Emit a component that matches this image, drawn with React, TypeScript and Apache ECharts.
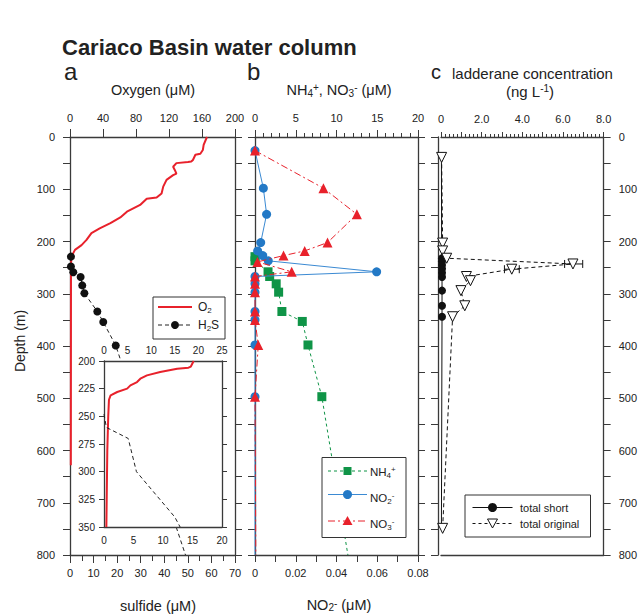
import React, { useEffect, useRef } from 'react';
import * as echarts from 'echarts';

const FONT = '"Liberation Sans", Arial, Helvetica, sans-serif';
const INK = '#222222';
const FRAME = '#3a3a3a';
const RED = '#e8212b';
const GREEN = '#0f9447';
const BLUE = '#2379c6';
const BLUE_LINE = '#3b8ad3';

// ---------- Panel a: oxygen & sulfide ----------
const oxygenDepth = [0, 15, 25, 32, 34, 44, 47, 48, 50, 57, 63, 70, 73, 82, 95, 108, 116, 118, 130, 143, 154, 165, 175, 184, 197, 207, 216, 228, 242, 628];
const oxygenValue = [166, 162, 161, 158, 152, 149, 147, 143, 129, 125, 127, 129, 125, 117, 113, 111, 105, 93, 85, 69, 61, 49, 36, 26, 20, 14, 6, 2, 1.2, 1];
const sulfideDepth = [229, 248, 259, 268, 284, 299, 334, 354, 399, 800];
const sulfideValue = [0.4, 0.4, 1.4, 4.5, 5.2, 6.1, 11.6, 14.1, 19.4, 49];
const sulfideMarked = [true, true, true, true, true, true, true, true, true, false];

// inset (200-350 m)
const insetOxygenDepth = [200, 205, 206, 207, 210, 213, 216, 219, 222, 225, 228, 231, 235, 250, 281, 326, 350];
const insetOxygenValue = [19.0, 18.4, 17.9, 15.5, 11.9, 9.1, 7.7, 7.0, 5.6, 4.9, 2.8, 1.4, 1.05, 0.9, 0.7, 0.57, 0.5];
const insetSulfideDepth = [248, 260, 270, 300, 341, 350];
const insetSulfideValue = [0, 0.4, 4.1, 5.5, 12.0, 12.9];

// ---------- Panel b: nutrients ----------
const nh4Depth = [229, 237, 258, 267, 281, 297, 334, 353, 398, 497, 800];
const nh4Value = [0, 0, 1.6, 1.8, 2.6, 2.9, 3.3, 5.8, 6.5, 8.2, 11.4];
const nh4Marked = [true, true, true, true, true, true, true, true, true, true, false];
const no2Depth = [26, 98, 148, 202, 218, 227, 237, 258, 267, 281, 297, 334, 350, 398, 497, 800];
const no2Value = [0, 0.0041, 0.0057, 0.0028, 0.0013, 0.0038, 0.0065, 0.0597, 0, 0, 0, 0, 0, 0, 0, 0];
const no2Marked = [true, true, true, true, true, true, true, true, true, true, true, true, true, true, true, false];
const no3Depth = [26, 98, 148, 202, 218, 227, 239, 258, 267, 281, 297, 334, 350, 398, 497, 800];
const no3Value = [0, 8.4, 12.5, 8.9, 6.1, 3.5, 0.3, 4.5, 0, 0, 0, 0, 0, 0.4, 0, 0.1];
const no3Marked = [true, true, true, true, true, true, true, true, true, true, true, true, true, true, true, false];

// ---------- Panel c: ladderanes ----------
const originalDepth = [39, 203, 218, 232, 243, 253, 267, 275, 294, 323, 344, 749];
const originalValue = [0.03, 0.08, 0.08, 0.28, 6.49, 3.48, 1.25, 1.45, 0.98, 1.17, 0.57, 0.08];
const originalErrDepth = [243, 253];
const originalErrLow = [6.08, 3.12];
const originalErrHigh = [6.97, 3.85];
const shortDepth = [39, 203, 218, 232, 238, 245, 252, 260, 268, 294, 323, 344, 749];
const shortValue = [0.02, 0.03, 0.03, 0.05, 0.05, 0.05, 0.05, 0.05, 0.05, 0.05, 0.05, 0.05, 0.02];
const shortMarked = [false, false, false, true, true, true, true, true, true, true, true, true, false];

function pairs(values: number[], depths: number[], marked?: boolean[]) {
  return depths.map((d, i) =>
    marked && !marked[i] ? { value: [values[i], d], symbol: 'none' } : [values[i], d]
  );
}

const lbl = (extra: any = {}) => ({
  show: true,
  fontSize: 11,
  color: INK,
  fontFamily: FONT,
  ...extra,
});
const axLine = { show: true, onZero: false, lineStyle: { color: FRAME, width: 1.3 } };
const tick = (length: number, extra: any = {}) => ({
  show: true,
  inside: false,
  length,
  lineStyle: { color: FRAME, width: 1 },
  ...extra,
});

function depthAxis(gridIndex: number, position: string, showLabels: boolean, extra: any = {}) {
  return {
    gridIndex,
    type: 'value',
    position,
    inverse: true,
    min: 0,
    max: 800,
    interval: 50,
    axisLine: axLine,
    axisTick: tick(7),
    axisLabel: lbl({
      show: showLabels,
      margin: 15,
      formatter: (v: number) => (v % 100 === 0 ? String(v) : ''),
    }),
    splitLine: { show: false },
    ...extra,
  };
}

function subsup(fs: number, subLH: number, supLH: number) {
  return {
    sub: { fontSize: fs, lineHeight: subLH, verticalAlign: 'bottom', fontFamily: FONT, fill: INK, color: INK },
    sup: { fontSize: fs, lineHeight: supLH, verticalAlign: 'top', fontFamily: FONT, fill: INK, color: INK },
  };
}

function txt(x: number, y: number, text: string, opts: any = {}) {
  const { fontSize = 14, align = 'center', rotation = 0, fontWeight = 'normal', lineHeight, rich } = opts;
  return {
    type: 'text',
    x,
    y,
    rotation,
    z: 50,
    style: {
      text,
      fontSize,
      fontWeight,
      fontFamily: FONT,
      fill: INK,
      align,
      verticalAlign: 'middle',
      lineHeight: lineHeight || fontSize,
      rich,
    },
  };
}

function hline(x1: number, x2: number, y: number, stroke: string, lineWidth: number, lineDash?: number[]) {
  return { type: 'line', z: 50, shape: { x1, y1: y, x2, y2: y }, style: { stroke, lineWidth, lineDash } };
}

function buildGraphic() {
  const g: any[] = [];
  // title & panel letters
  g.push(txt(62, 47, 'Cariaco Basin water column', { fontSize: 22, fontWeight: 'bold', align: 'left' }));
  g.push(txt(64, 71, 'a', { fontSize: 24, align: 'left' }));
  g.push(txt(247, 71, 'b', { fontSize: 24, align: 'left' }));
  g.push(txt(431, 72, 'c', { fontSize: 20, align: 'left' }));
  // axis titles
  g.push(txt(153, 90, 'Oxygen (μM)', { fontSize: 14.5 }));
  g.push(
    txt(339, 90, 'NH{sub|4}{sup|+}, NO{sub|3}{sup|-} (μM)', {
      fontSize: 14.5,
      lineHeight: 16,
      rich: subsup(10, 3, 3),
    })
  );
  g.push(txt(452, 73, 'ladderane concentration', { fontSize: 15, align: 'left' }));
  g.push(txt(530, 91, '(ng L{sup|-1})', { fontSize: 15, lineHeight: 16, rich: subsup(10, 3, 3) }));
  g.push(txt(158, 606, 'sulfide (μM)', { fontSize: 14.5 }));
  g.push(txt(339, 605, 'NO{sub|2}{sup|-} (μM)', { fontSize: 14.5, lineHeight: 14, rich: subsup(10, 3, 3) }));
  g.push(txt(20, 341, 'Depth (m)', { fontSize: 14, rotation: Math.PI / 2 }));

  // legend panel a
  g.push({ type: 'rect', z: 49, shape: { x: 153, y: 297, width: 72, height: 42 }, style: { fill: '#fff', stroke: '#333', lineWidth: 1 } });
  g.push(hline(158, 192, 307, RED, 2));
  g.push(txt(198, 307, 'O{sub|2}', { fontSize: 12, align: 'left', lineHeight: 14, rich: subsup(8, 3, 3) }));
  g.push(hline(158, 192, 325, '#222', 1, [4, 3]));
  g.push({ type: 'circle', z: 51, shape: { cx: 175, cy: 325, r: 4 }, style: { fill: '#111' } });
  g.push(txt(198, 325, 'H{sub|2}S', { fontSize: 12, align: 'left', lineHeight: 14, rich: subsup(8, 3, 3) }));

  // legend panel b
  g.push({ type: 'rect', z: 49, shape: { x: 322, y: 457.5, width: 84, height: 80 }, style: { fill: '#fff', stroke: '#333', lineWidth: 1 } });
  g.push(hline(328, 367, 471, GREEN, 1, [3, 3]));
  g.push({ type: 'rect', z: 51, shape: { x: 343.5, y: 467, width: 8, height: 8 }, style: { fill: GREEN } });
  g.push(txt(370, 472, 'NH{sub|4}{sup|+}', { fontSize: 11.5, align: 'left', lineHeight: 14, rich: subsup(8, 2, 2) }));
  g.push(hline(328, 367, 494.5, BLUE_LINE, 1));
  g.push({ type: 'circle', z: 51, shape: { cx: 347.5, cy: 494.5, r: 4.5 }, style: { fill: BLUE } });
  g.push(txt(370, 498, 'NO{sub|2}{sup|-}', { fontSize: 11.5, align: 'left', lineHeight: 14, rich: subsup(8, 2, 2) }));
  g.push(hline(328, 367, 521, RED, 1, [7, 3, 2, 3]));
  g.push({ type: 'polygon', z: 51, shape: { points: [[342.5, 525], [352.5, 525], [347.5, 516]] }, style: { fill: RED } });
  g.push(txt(370, 524, 'NO{sub|3}{sup|-}', { fontSize: 11.5, align: 'left', lineHeight: 14, rich: subsup(8, 2, 2) }));

  // legend panel c
  g.push({ type: 'rect', z: 49, shape: { x: 465, y: 495, width: 125.5, height: 42 }, style: { fill: '#fff', stroke: '#333', lineWidth: 1 } });
  g.push(hline(472.5, 512.5, 507.5, '#111', 1));
  g.push({ type: 'circle', z: 51, shape: { cx: 492.5, cy: 507.5, r: 4.5 }, style: { fill: '#111' } });
  g.push(txt(520, 507.5, 'total short', { fontSize: 11, align: 'left' }));
  g.push(hline(472.5, 512.5, 523.5, '#111', 1, [3, 3]));
  g.push({
    type: 'polygon',
    z: 51,
    shape: { points: [[487.5, 519], [497.5, 519], [492.5, 528]] },
    style: { fill: '#fff', stroke: '#111', lineWidth: 1 },
  });
  g.push(txt(520, 523.5, 'total original', { fontSize: 11, align: 'left' }));
  return g;
}

export default function App() {
  const ref = useRef<HTMLDivElement>(null);
  useEffect(() => {
    if (!ref.current) return;
    const chart = echarts.init(ref.current, undefined, { renderer: 'svg' });

    const option: any = {
      animation: false,
      backgroundColor: '#ffffff',
      textStyle: { fontFamily: FONT },
      grid: [
        { left: 70, top: 137, width: 165, height: 418, containLabel: false },
        { left: 255, top: 137, width: 163, height: 418, containLabel: false },
        { left: 441, top: 137, width: 164, height: 418, containLabel: false },
        { left: 104, top: 361, width: 118, height: 166, containLabel: false, show: true, backgroundColor: '#ffffff', borderWidth: 0, z: 10 },
      ],
      xAxis: [
        {
          gridIndex: 0, type: 'value', position: 'top', min: 0, max: 200, interval: 40,
          axisLine: axLine, axisTick: tick(8), axisLabel: lbl({ margin: 14 }), splitLine: { show: false },
        },
        {
          gridIndex: 0, type: 'value', position: 'bottom', min: 0, max: 70, interval: 10,
          axisLine: axLine, axisTick: tick(8),
          minorTick: { show: true, splitNumber: 2, length: 6, lineStyle: { color: FRAME, width: 1 } },
          axisLabel: lbl({ margin: 12 }), splitLine: { show: false }, minorSplitLine: { show: false },
        },
        {
          gridIndex: 1, type: 'value', position: 'top', min: 0, max: 20, interval: 5,
          axisLine: axLine, axisTick: tick(7),
          minorTick: { show: true, splitNumber: 5, length: 4, lineStyle: { color: FRAME, width: 1 } },
          axisLabel: lbl({ margin: 14 }), splitLine: { show: false }, minorSplitLine: { show: false },
        },
        {
          gridIndex: 1, type: 'value', position: 'bottom', min: 0, max: 0.08, interval: 0.02,
          axisLine: axLine, axisTick: tick(7),
          minorTick: { show: true, splitNumber: 2, length: 7, lineStyle: { color: FRAME, width: 1 } },
          axisLabel: lbl({ margin: 12, formatter: (v: number) => (v === 0 ? '0' : Number(v).toFixed(2)) }),
          splitLine: { show: false }, minorSplitLine: { show: false },
        },
        {
          gridIndex: 2, type: 'value', position: 'top', min: 0, max: 8, interval: 1,
          axisLine: axLine, axisTick: tick(5),
          minorTick: { show: true, splitNumber: 5, length: 3, lineStyle: { color: FRAME, width: 1 } },
          axisLabel: lbl({
            margin: 13,
            formatter: (v: number) => (Math.round(v) % 2 === 0 ? (v === 0 ? '0' : Number(v).toFixed(1)) : ''),
          }),
          splitLine: { show: false }, minorSplitLine: { show: false },
        },
        {
          gridIndex: 2, type: 'value', position: 'bottom', min: 0, max: 8, interval: 1,
          axisLine: axLine, axisTick: { show: false }, axisLabel: { show: false }, splitLine: { show: false },
        },
        {
          gridIndex: 3, type: 'value', position: 'bottom', min: 0, max: 20, interval: 5, z: 11,
          axisLine: axLine, axisTick: { show: false }, axisLabel: lbl({ margin: 8, fontSize: 10 }), splitLine: { show: false },
        },
        {
          gridIndex: 3, type: 'value', position: 'top', min: 0, max: 25, interval: 5, z: 11,
          axisLine: axLine, axisTick: { show: false }, axisLabel: lbl({ margin: 6, fontSize: 10 }), splitLine: { show: false },
        },
      ],
      yAxis: [
        depthAxis(0, 'left', true),
        depthAxis(0, 'right', false),
        depthAxis(1, 'left', false),
        depthAxis(1, 'right', false),
        depthAxis(2, 'left', false, { offset: 3 }),
        depthAxis(2, 'right', true),
        {
          gridIndex: 3, type: 'value', position: 'left', inverse: true, min: 200, max: 350, interval: 25, z: 11,
          axisLine: axLine, axisTick: tick(5), axisLabel: lbl({ margin: 9, fontSize: 10 }), splitLine: { show: false },
        },
        {
          gridIndex: 3, type: 'value', position: 'right', inverse: true, min: 200, max: 350, interval: 25, z: 11,
          axisLine: axLine, axisTick: tick(5), axisLabel: { show: false }, splitLine: { show: false },
        },
      ],
      series: [
        {
          type: 'line', name: 'O2', xAxisIndex: 0, yAxisIndex: 0, clip: false, z: 3,
          data: pairs(oxygenValue, oxygenDepth), symbol: 'none',
          lineStyle: { color: RED, width: 2 }, itemStyle: { color: RED },
        },
        {
          type: 'line', name: 'H2S', xAxisIndex: 1, yAxisIndex: 0, clip: false, z: 3,
          data: pairs(sulfideValue, sulfideDepth, sulfideMarked), symbol: 'circle', symbolSize: 8,
          lineStyle: { color: '#222', width: 1, type: [4, 3] }, itemStyle: { color: '#111' },
        },
        {
          type: 'line', name: 'O2 inset', xAxisIndex: 7, yAxisIndex: 6, clip: true, z: 12,
          data: pairs(insetOxygenValue, insetOxygenDepth), symbol: 'none',
          lineStyle: { color: RED, width: 2 }, itemStyle: { color: RED },
        },
        {
          type: 'line', name: 'H2S inset', xAxisIndex: 6, yAxisIndex: 6, clip: true, z: 12,
          data: pairs(insetSulfideValue, insetSulfideDepth), symbol: 'none',
          lineStyle: { color: '#222', width: 1, type: [4, 3] }, itemStyle: { color: '#222' },
        },
        {
          type: 'line', name: 'NH4+', xAxisIndex: 2, yAxisIndex: 2, clip: false, z: 3,
          data: pairs(nh4Value, nh4Depth, nh4Marked), symbol: 'rect', symbolSize: 9,
          lineStyle: { color: GREEN, width: 1, type: [3, 3] }, itemStyle: { color: GREEN },
        },
        {
          type: 'line', name: 'NO2-', xAxisIndex: 3, yAxisIndex: 2, clip: false, z: 4,
          data: pairs(no2Value, no2Depth, no2Marked), symbol: 'circle', symbolSize: 9,
          lineStyle: { color: BLUE_LINE, width: 1 }, itemStyle: { color: BLUE },
        },
        {
          type: 'line', name: 'NO3-', xAxisIndex: 2, yAxisIndex: 2, clip: false, z: 5,
          data: pairs(no3Value, no3Depth, no3Marked), symbol: 'triangle', symbolSize: 10,
          lineStyle: { color: RED, width: 1, type: [7, 3, 2, 3] }, itemStyle: { color: RED },
        },
        {
          type: 'line', name: 'total short', xAxisIndex: 4, yAxisIndex: 4, clip: false, z: 3,
          data: pairs(shortValue, shortDepth, shortMarked), symbol: 'circle', symbolSize: 8,
          lineStyle: { color: '#111', width: 1 }, itemStyle: { color: '#111' },
        },
        {
          type: 'custom', name: 'total original error', xAxisIndex: 4, yAxisIndex: 4, z: 4,
          data: originalErrDepth.map((d, i) => [originalErrLow[i], originalErrHigh[i], d]),
          encode: { x: [0, 1], y: 2 },
          renderItem: (params: any, api: any) => {
            const lo = api.coord([api.value(0), api.value(2)]);
            const hi = api.coord([api.value(1), api.value(2)]);
            const s = { stroke: '#111', lineWidth: 1 };
            return {
              type: 'group',
              children: [
                { type: 'line', shape: { x1: lo[0], y1: lo[1], x2: hi[0], y2: hi[1] }, style: s },
                { type: 'line', shape: { x1: lo[0], y1: lo[1] - 4, x2: lo[0], y2: lo[1] + 4 }, style: s },
                { type: 'line', shape: { x1: hi[0], y1: hi[1] - 4, x2: hi[0], y2: hi[1] + 4 }, style: s },
              ],
            };
          },
        },
        {
          type: 'line', name: 'total original', xAxisIndex: 4, yAxisIndex: 4, clip: false, z: 5,
          data: pairs(originalValue, originalDepth), symbol: 'triangle', symbolRotate: 180, symbolSize: 10,
          lineStyle: { color: '#111', width: 1, type: [4, 3] },
          itemStyle: { color: '#ffffff', borderColor: '#111', borderWidth: 1 },
        },
      ],
      graphic: buildGraphic(),
    };

    chart.setOption(option);
    return () => chart.dispose();
  }, []);

  return (
    <div
      ref={ref}
      style={{ position: 'fixed', left: 0, top: 0, width: 640, height: 614, background: '#fff' }}
    />
  );
}
